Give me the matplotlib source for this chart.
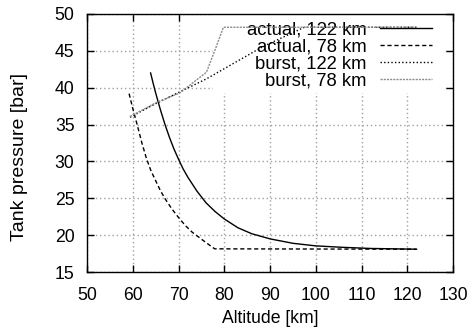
import numpy as np
import matplotlib
matplotlib.use("Agg")
import matplotlib.pyplot as plt
from matplotlib.patches import Rectangle

plt.rcParams['font.family'] = ['Liberation Sans', 'DejaVu Sans']

# tank pressure during descent, two balloon burst altitudes
alt_actual_122 = [63.9, 64.5, 65.0, 66.0, 67.0, 68.0, 69.0, 70.0, 71.0, 72.0,
                  74.0, 76.0, 78.0, 80.0, 83.0, 86.0, 90.0, 95.0, 100.0,
                  106.0, 112.0, 122.0]
p_actual_122 = [42.0, 40.5, 39.3, 37.1, 35.1, 33.3, 31.7, 30.3, 29.0, 27.9,
                26.0, 24.4, 23.2, 22.2, 21.0, 20.2, 19.5, 18.9, 18.55,
                18.35, 18.2, 18.1]

alt_actual_78 = [59.2, 60.0, 61.0, 62.0, 63.0, 64.0, 65.0, 66.0, 67.0, 68.5,
                 70.0, 71.5, 73.0, 74.5, 76.0, 77.9, 122.0]
p_actual_78 = [39.2, 37.2, 34.9, 32.5, 30.4, 28.7, 27.4, 26.1, 25.0, 23.6,
               22.4, 21.3, 20.4, 19.7, 19.0, 18.15, 18.1]

alt_burst_122 = [59.4, 65.2, 76.1, 88.5, 97.5, 122.0]
p_burst_122 = [36.0, 37.9, 41.2, 45.6, 48.2, 48.2]

alt_burst_78 = [59.4, 65.2, 70.3, 76.1, 77.9, 79.8, 122.0]
p_burst_78 = [36.1, 38.0, 39.3, 42.1, 45.0, 48.2, 48.2]

fs = 12.7
fs_key = 13.3

fig = plt.figure(figsize=(4.74, 3.33), dpi=100)
ax = fig.add_axes([0.1835, 0.183, 0.7725, 0.775])

ax.plot(alt_actual_122, p_actual_122, color='black', lw=1.0, label='actual, 122 km')
ax.plot(alt_actual_78, p_actual_78, color='black', lw=1.0, dashes=(3, 2),
        label='actual, 78 km')
ax.plot(alt_burst_122, p_burst_122, color='black', lw=1.0, dashes=(1, 1.6),
        label='burst, 122 km')
ax.plot(alt_burst_78, p_burst_78, color='#8c8c8c', lw=1.0, dashes=(1.5, 0.8),
        label='burst, 78 km')

ax.set_xlim(50, 130)
ax.set_ylim(15, 50)
ax.set_xticks(np.arange(50, 131, 10))
ax.set_yticks(np.arange(15, 51, 5))

ax.set_axisbelow(True)
ax.grid(True, color='#a0a0a0', lw=1.0, dashes=(1, 2))
# key area hides the grid behind it
ax.add_patch(Rectangle((0.344, 0.694), 0.629, 0.306, transform=ax.transAxes,
                       facecolor='white', edgecolor='none', zorder=1))

ax.tick_params(direction='in', length=5, width=1, top=True, right=True,
               labelsize=fs, color='black')
ax.tick_params(axis='x', pad=11)
ax.tick_params(axis='y', pad=9)
for s in ax.spines.values():
    s.set_linewidth(1.0)

ax.set_xlabel('Altitude [km]', fontsize=fs)
ax.set_ylabel('Tank pressure [bar]', fontsize=14)
ax.yaxis.set_label_coords(-0.16, 0.446)

leg = ax.legend(loc='upper right', bbox_to_anchor=(0.943, 0.972), frameon=False,
                markerfirst=False, fontsize=fs_key, handlelength=2.85,
                handletextpad=0.7, labelspacing=0.0, borderpad=0,
                borderaxespad=0)
leg.set_zorder(1.5)

fig.savefig('out.png', dpi=100)
